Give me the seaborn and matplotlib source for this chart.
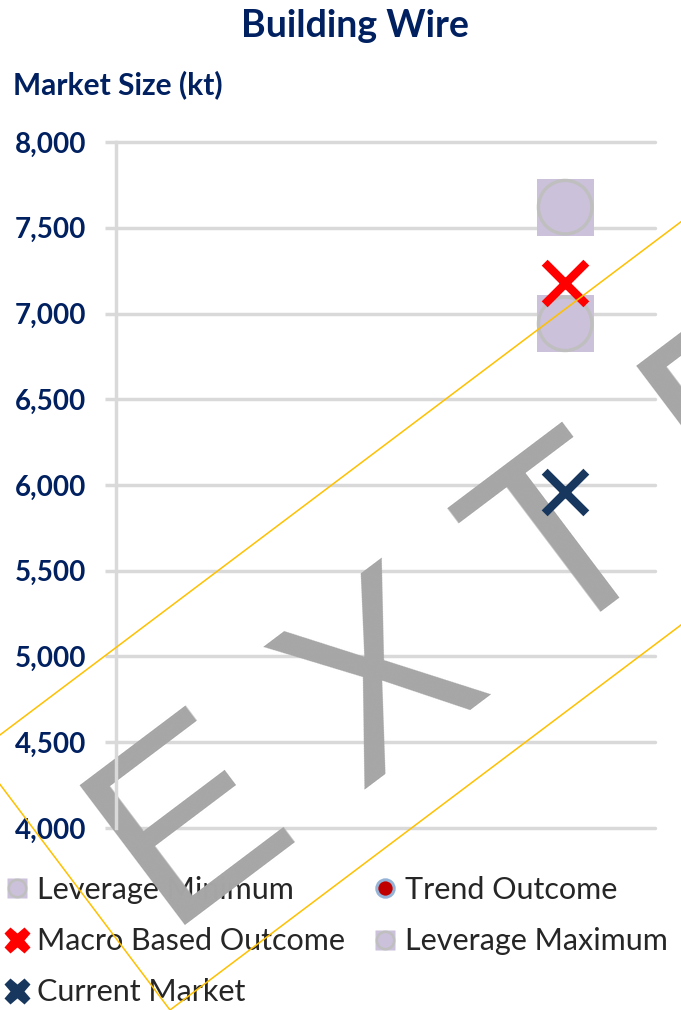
import numpy as np
import pandas as pd
import matplotlib
matplotlib.use("Agg")
import matplotlib.pyplot as plt
import seaborn as sns
from matplotlib.lines import Line2D
from matplotlib.patches import Polygon
from matplotlib.transforms import IdentityTransform

# ---------------- data ----------------
title = "Building Wire"
y_label = "Market Size (kt)"
slots = [0, 1, 2]            # category slots of the x axis (data sits in the last one)
series_slot = 2
series_names = ["Leverage Minimum", "Macro Based Outcome", "Current Market",
                "Trend Outcome", "Leverage Maximum"]
leverage_minimum = [6940]
macro_based_outcome = [7180]
current_market = [5960]
trend_outcome = [np.nan]
leverage_maximum = [7620]
y_ticks = [4000, 4500, 5000, 5500, 6000, 6500, 7000, 7500, 8000]
y_tick_labels = [f"{v:,}" for v in y_ticks]
watermark = "E X T R A C T"

# ---------------- style ----------------
NAVY = "#002060"
LAV = "#CCC1DA"
GRAY = "#BFBFBF"
RED = "#FF0000"
XNAVY = "#17375E"
GRID = "#D9D9D9"

sns.set_style("white")
plt.rcParams["font.family"] = ["Lato", "DejaVu Sans"]

W, H = 681, 1010
fig = plt.figure(figsize=(W / 100, H / 100), dpi=100)
ax = fig.add_axes([116 / W, 1 - 828 / H, (655 - 116) / W, (828 - 142) / H])

df = pd.DataFrame({
    "slot": [series_slot] * 5,
    "series": ["Leverage Minimum", "Macro Based Outcome", "Current Market",
               "Trend Outcome", "Leverage Maximum"],
    "value": leverage_minimum + macro_based_outcome + current_market
             + trend_outcome + leverage_maximum,
})

lev = df[df.series.isin(["Leverage Minimum", "Leverage Maximum"])]
sns.scatterplot(data=lev, x="slot", y="value", marker="s", s=41 ** 2,
                color=LAV, edgecolor="none", linewidth=0, ax=ax, zorder=3, legend=False)
sns.scatterplot(data=lev, x="slot", y="value", marker="o", s=38.5 ** 2,
                color=GRAY, facecolor="none", edgecolor=GRAY, linewidth=2.4,
                ax=ax, zorder=4, legend=False)
sns.scatterplot(data=df[df.series == "Trend Outcome"].dropna(), x="slot", y="value",
                marker="o", s=13 ** 2, color="#C00000", edgecolor="#95B3D7",
                linewidth=2, ax=ax, zorder=4, legend=False)
sns.scatterplot(data=df[df.series == "Macro Based Outcome"], x="slot", y="value",
                marker="x", s=30 ** 2, color=RED, linewidth=6, ax=ax, zorder=5, legend=False)
sns.scatterplot(data=df[df.series == "Current Market"], x="slot", y="value",
                marker="x", s=30 ** 2, color=XNAVY, linewidth=6, ax=ax, zorder=5, legend=False)

ax.set_xlim(slots[0] - 0.5, slots[-1] + 0.5)
ax.set_ylim(y_ticks[0], y_ticks[-1])
ax.set_xticks([])
ax.set_yticks(y_ticks, labels=y_tick_labels, fontweight="bold", fontsize=20, color=NAVY)
ax.set_xlabel("")
ax.set_ylabel("")
ax.set_axisbelow(True)
ax.grid(axis="y", color=GRID, linewidth=2.5)
ax.grid(axis="x", visible=False)
for gl in ax.yaxis.get_gridlines():
    gl.set_clip_on(False)
for s in ["top", "right", "bottom"]:
    ax.spines[s].set_visible(False)
ax.spines["left"].set_color(GRID)
ax.spines["left"].set_linewidth(2.5)
ax.tick_params(axis="y", length=8, width=2.5, color=GRID, pad=13.5, left=True)
ax.patch.set_alpha(0)

fig.text(355 / W, 1 - 37 / H, title, ha="center", va="baseline",
         fontsize=27, fontweight="bold", color=NAVY)
fig.text(13 / W, 1 - 94 / H, y_label, ha="left", va="baseline",
         fontsize=21.5, fontweight="bold", color=NAVY)

# legend
h_lev = (Line2D([], [], ls="none", marker="s", ms=14.5, mfc=LAV, mec="none"),
         Line2D([], [], ls="none", marker="o", ms=12.5, mfc=LAV, mec=GRAY, mew=1.8))
h_trend = Line2D([], [], ls="none", marker="o", ms=12.5, mfc="#C00000", mec="#95B3D7", mew=2.2)
h_macro = Line2D([], [], ls="none", marker="X", ms=19, mfc=RED, mec="none")
h_cur = Line2D([], [], ls="none", marker="X", ms=19, mfc=XNAVY, mec="none")
handles = [h_lev, h_macro, h_cur, h_trend, h_lev]
leg = ax.legend(handles, series_names, ncol=2, loc="upper left",
                bbox_to_anchor=(2 / W, 1 - 876 / H), bbox_transform=fig.transFigure,
                frameon=False, borderpad=0, borderaxespad=0, handlelength=1.0,
                handletextpad=0.15, columnspacing=0.8, labelspacing=0.76,
                prop={"family": "Lato", "size": 22})
leg.set_zorder(1)

# watermark
ax.text(169, H - 937, watermark, transform=IdentityTransform(), rotation=37,
        rotation_mode="anchor", ha="left", va="baseline", fontsize=183,
        family="Liberation Sans", color="#A6A6A6", zorder=2, clip_on=False)
ang = np.deg2rad(37)
u = np.array([np.cos(ang), np.sin(ang)])
v = np.array([-np.sin(ang), np.cos(ang)])
c0 = np.array([170.0, 0.0])
bw, bh = 2000, 322
corners = [c0, c0 + bw * u, c0 + bw * u + bh * v, c0 + bh * v]
ax.add_patch(Polygon(corners, closed=True, fill=False, ec="#FFC000", lw=1.1,
                     transform=IdentityTransform(), clip_on=False, zorder=10))

fig.savefig("out.png", dpi=100)
